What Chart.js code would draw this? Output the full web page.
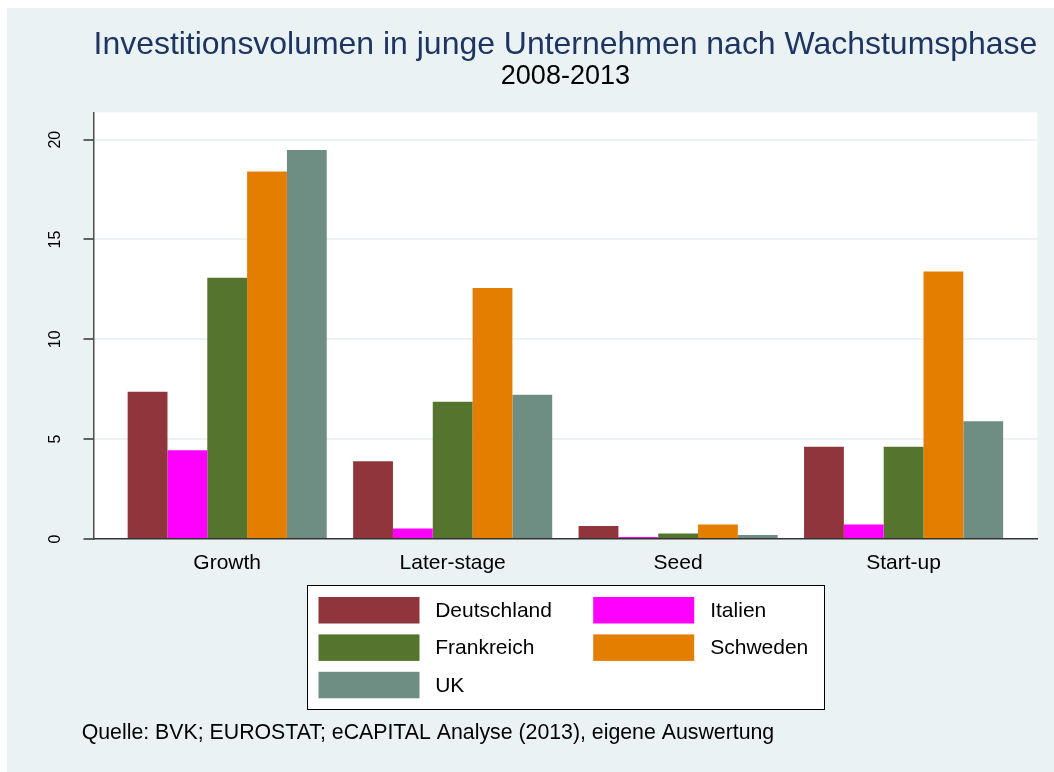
<!DOCTYPE html>
<html>
<head>
<meta charset="utf-8">
<title>Investitionsvolumen</title>
<script src="https://cdn.jsdelivr.net/npm/chart.js@4.4.1/dist/chart.umd.min.js"></script>
<style>
  html, body { margin: 0; padding: 0; background: #ffffff; }
  #wrap { position: absolute; left: 7px; top: 8px; width: 1047px; height: 764px; background: #EAF2F3; }
</style>
</head>
<body>
<div id="wrap"><canvas id="chart"></canvas></div>
<script>
// categories and values
const categories = ['Growth', 'Later-stage', 'Seed', 'Start-up'];
const countries = ['Deutschland', 'Italien', 'Frankreich', 'Schweden', 'UK'];
const deutschland = [7.38, 3.9, 0.65, 4.62];
const italien = [4.45, 0.53, 0.1, 0.73];
const frankreich = [13.08, 6.88, 0.28, 4.62];
const schweden = [18.4, 12.57, 0.73, 13.4];
const uk = [19.48, 7.22, 0.2, 5.9];
const yTicks = [0, 5, 10, 15, 20];

const seriesValues = [deutschland, italien, frankreich, schweden, uk];
const colors = ['#90353B', '#FF00FF', '#55752F', '#E37E00', '#6E8E84'];

const fontFamily = '"Liberation Sans", Arial, sans-serif';
Chart.defaults.font.family = fontFamily;
Chart.defaults.color = '#000';

const datasets = countries.map((name, k) => ({
  label: name,
  data: seriesValues[k].map((y, i) => ({ x: i, y: y })),
  backgroundColor: colors[k],
  borderWidth: 0,
  barPercentage: 1,
  categoryPercentage: 0.883
}));

// white plot region behind the bars
const plotBg = {
  id: 'plotBg',
  beforeDraw(chart) {
    const a = chart.chartArea, c = chart.ctx;
    c.save();
    c.fillStyle = '#ffffff';
    c.fillRect(a.left, a.top, a.right - a.left, a.bottom - a.top);
    c.restore();
  }
};

// Stata-like boxed legend (2 columns) and source note
const boxLegend = {
  id: 'boxLegend',
  afterDraw(chart) {
    const a = chart.chartArea, c = chart.ctx;
    const w = 517, h = 124;
    const left = (a.left + a.right) / 2 - w / 2;
    const top = a.bottom + 46.3;
    c.save();
    c.fillStyle = '#fff';
    c.fillRect(left, top, w, h);
    c.strokeStyle = '#000';
    c.lineWidth = 1;
    c.strokeRect(Math.round(left) + 0.5, Math.round(top) + 0.5, w, h);
    c.font = '21px ' + fontFamily;
    c.textBaseline = 'middle';
    c.textAlign = 'left';
    chart.data.datasets.forEach((ds, i) => {
      const col = i % 2, row = Math.floor(i / 2);
      const sx = left + (col ? 286.3 : 11.6);
      const tx = left + (col ? 403.3 : 128.3);
      const sy = top + 11.7 + row * 37.4;
      c.fillStyle = ds.backgroundColor;
      c.fillRect(sx, sy, 101, 26.5);
      c.fillStyle = '#000';
      c.fillText(ds.label, tx, sy + 14);
    });
    c.font = '21.3px ' + fontFamily;
    c.textBaseline = 'alphabetic';
    c.fillText('Quelle: BVK; EUROSTAT; eCAPITAL Analyse (2013), eigene Auswertung', 74.7, 731);
    c.restore();
  }
};

new Chart(document.getElementById('chart'), {
  type: 'bar',
  data: { datasets: datasets },
  plugins: [plotBg, boxLegend],
  options: {
    responsive: true,
    maintainAspectRatio: false,
    animation: false,
    layout: { padding: { left: 0, right: 16.7, top: 0, bottom: 0 } },
    plugins: {
      legend: { display: false },
      tooltip: { enabled: false },
      title: {
        display: true,
        fullSize: false,
        text: 'Investitionsvolumen in junge Unternehmen nach Wachstumsphase',
        color: '#1E3461',
        font: { size: 32, weight: 'normal', lineHeight: 1 },
        padding: { top: 20.9, bottom: 0 }
      },
      subtitle: {
        display: true,
        fullSize: false,
        text: '2008-2013',
        color: '#000',
        font: { size: 27, weight: 'normal', lineHeight: 1 },
        padding: { top: 2.2, bottom: 22.2 }
      }
    },
    scales: {
      x: {
        type: 'linear',
        offset: false,
        min: -0.593,
        max: 3.593,
        grid: { display: false, drawTicks: false },
        border: { display: true, color: '#333', width: 1.5 },
        ticks: {
          stepSize: 1,
          includeBounds: false,
          padding: 12,
          color: '#000',
          font: { size: 21 },
          callback: (v) => categories[Math.round(v)] ?? ''
        },
        afterFit: (s) => { s.height = 233; }
      },
      y: {
        min: 0,
        max: 21.37,
        grid: {
          color: (ctx) => (ctx.tick && ctx.tick.value === 0) ? 'rgba(0,0,0,0)' : '#EAF2F3',
          lineWidth: 2,
          drawTicks: true,
          tickLength: 10,
          tickColor: '#333',
          tickWidth: 1.5
        },
        border: { display: true, color: '#4d4d4d', width: 1.5 },
        afterBuildTicks: (s) => { s.ticks = yTicks.map(v => ({ value: v })); },
        ticks: {
          minRotation: 90,
          maxRotation: 90,
          crossAlign: 'center',
          padding: 19,
          color: '#000',
          font: { size: 16 }
        },
        afterFit: (s) => { s.width = 86.5; }
      }
    }
  }
});
</script>
</body>
</html>
